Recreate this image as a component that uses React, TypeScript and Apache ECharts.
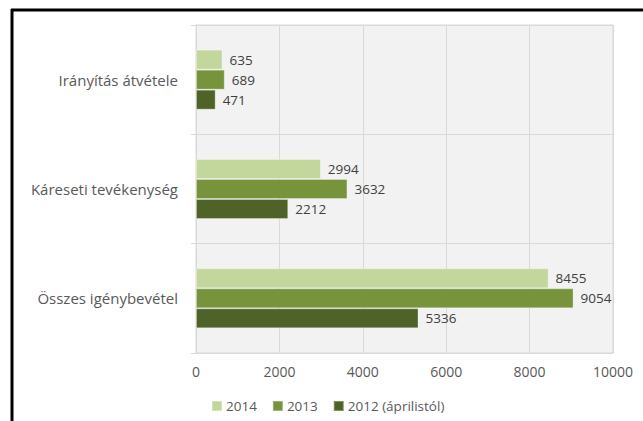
import React, { useEffect, useRef } from "react";
import * as echarts from "echarts";

const categories = ["Irányítás átvétele", "Káreseti tevékenység", "Összes igénybevétel"];
const seriesNames = ["2014", "2013", "2012 (áprilistól)"];
const values2014 = [635, 2994, 8455];
const values2013 = [689, 3632, 9054];
const values2012 = [471, 2212, 5336];
const colors = ["#c3d69b", "#77933c", "#4f6228"];
const xTicks = { min: 0, max: 10000, interval: 2000 };

const FONT = "Open Sans";

export default function App() {
  const ref = useRef<HTMLDivElement>(null);
  useEffect(() => {
    if (!ref.current) return;
    const chart = echarts.init(ref.current, undefined, { renderer: "svg" });
    const data = [values2014, values2013, values2012];
    chart.setOption({
      animation: false,
      backgroundColor: "#ffffff",
      textStyle: { fontFamily: FONT },
      grid: {
        left: 196,
        right: 30,
        top: 25,
        bottom: 68,
        show: true,
        backgroundColor: "#f2f2f2",
        borderColor: "#d9d9d9",
        borderWidth: 1,
      },
      legend: {
        data: seriesNames,
        left: 206,
        top: 394,
        icon: "rect",
        itemWidth: 10,
        itemHeight: 10,
        itemGap: 15,
        textStyle: { fontFamily: FONT, fontSize: 13.5, color: "#595959", padding: [0, 0, 0, -1] },
      },
      xAxis: {
        type: "value",
        min: xTicks.min,
        max: xTicks.max,
        interval: xTicks.interval,
        axisLine: { show: false },
        axisTick: { show: false },
        axisLabel: {
          fontFamily: FONT,
          fontSize: 14,
          color: "#595959",
          margin: 11,
          formatter: (v: number) => String(v),
        },
        splitLine: { show: true, lineStyle: { color: "#d9d9d9", width: 1 } },
      },
      yAxis: {
        type: "category",
        inverse: true,
        data: categories,
        axisLine: { show: true, lineStyle: { color: "#d9d9d9", width: 1 } },
        axisTick: { show: true, length: 5, lineStyle: { color: "#d9d9d9" } },
        axisLabel: { fontFamily: FONT, fontSize: 15, color: "#595959", margin: 18 },
        splitLine: { show: true, lineStyle: { color: "#d9d9d9", width: 1 } },
      },
      series: seriesNames.map((name, i) => ({
        name,
        type: "bar",
        data: data[i],
        barWidth: 20,
        barGap: "0%",
        itemStyle: { color: colors[i], borderColor: "rgba(255,255,255,0.3)", borderWidth: 1 },
        label: {
          show: true,
          position: "right",
          distance: 7,
          fontFamily: FONT,
          fontSize: 13.5,
          color: "#404040",
        },
      })),
      graphic: [
        { type: "line", shape: { x1: 11, y1: 10, x2: 643, y2: 10 }, style: { stroke: "#000", lineWidth: 3 } },
        { type: "line", shape: { x1: 12, y1: 9, x2: 12, y2: 421 }, style: { stroke: "#000", lineWidth: 3 } },
      ],
    });
    return () => chart.dispose();
  }, []);
  return (
    <div
      ref={ref}
      style={{ position: "fixed", left: 0, top: 0, width: 643, height: 421 }}
    />
  );
}
